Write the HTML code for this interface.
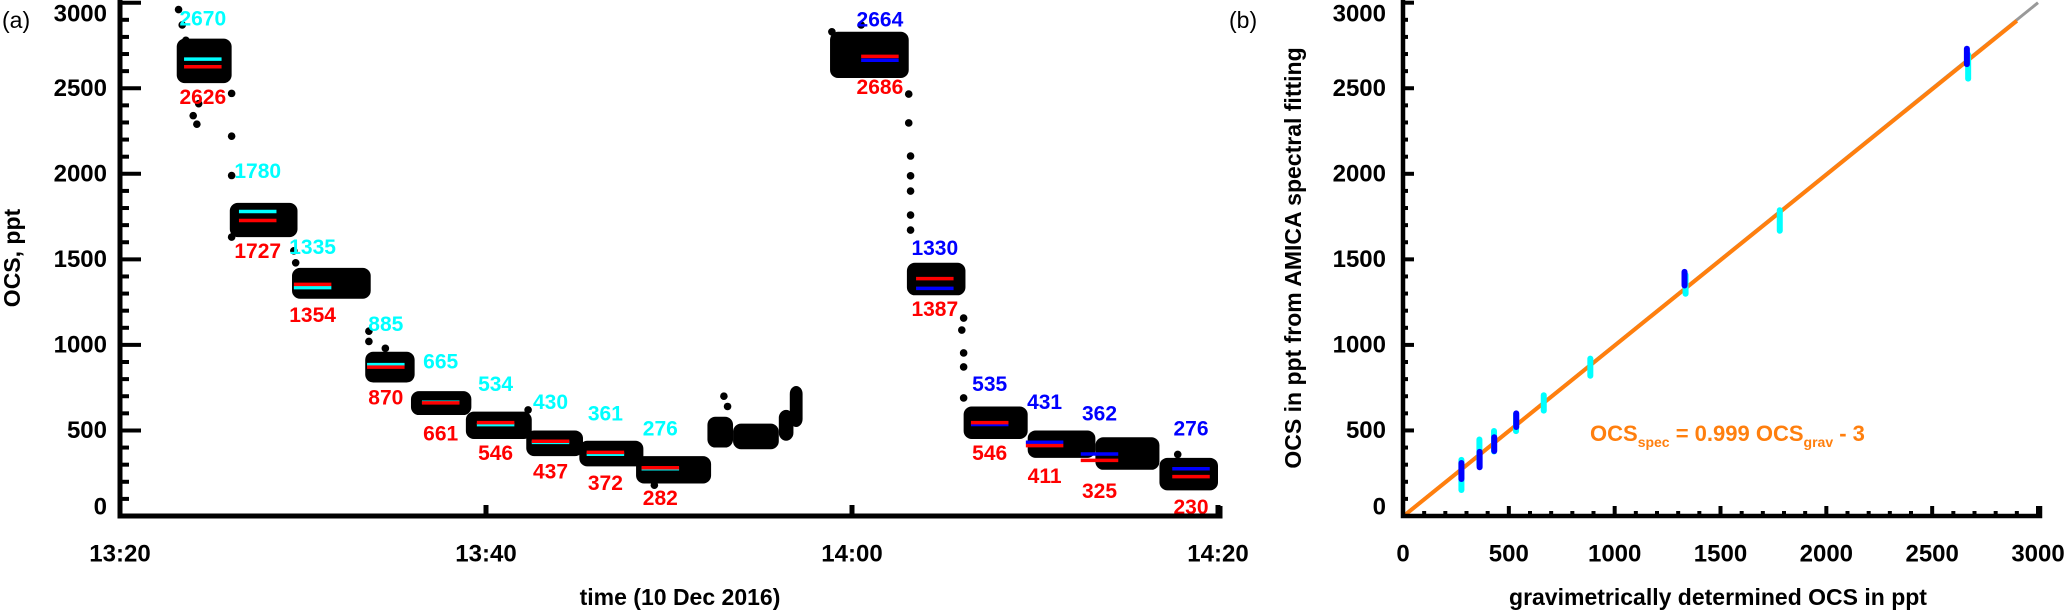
<!DOCTYPE html>
<html><head><meta charset="utf-8">
<style>
html,body{margin:0;padding:0;background:#fff;}
svg{display:block;font-family:"Liberation Sans",Arial,sans-serif;}
.tk{font-size:24px;font-weight:bold;fill:#000;}
.ttl{font-size:23px;font-weight:bold;fill:#000;}
.lab{font-size:21px;font-weight:bold;}
</style></head>
<body>
<svg id="chart" width="2067" height="612" viewBox="0 0 2067 612"></svg>
<script>
// ---------- Panel (a) data ----------
const blockStart = [3.1, 6.0, 9.4, 13.4, 15.9, 18.9, 22.2, 25.1, 28.2, 32.1, 33.5, 36.0, 36.6, 38.8, 43.0, 46.1, 49.6, 53.3, 56.8];
const blockEnd   = [6.1, 9.7, 13.7, 16.1, 19.2, 22.5, 25.3, 28.6, 32.3, 33.5, 36.0, 36.8, 37.3, 43.1, 46.2, 49.6, 53.3, 56.8, 60.0];
const blockLow   = [2530, 1630, 1270, 780, 590, 450, 350, 290, 190, 400, 390, 440, 520, 2560, 1290, 450, 340, 270, 150];
const blockHigh  = [2790, 1830, 1450, 960, 730, 610, 500, 440, 350, 580, 540, 620, 760, 2830, 1480, 640, 500, 460, 340];
const dotTime  = [3.2, 3.4, 3.6, 4.0, 4.2, 4.3, 6.1, 6.1, 6.1, 6.1, 9.5, 9.6, 13.6, 13.6, 14.5, 22.3, 29.2, 33.0, 33.2, 38.9, 40.5, 43.1, 43.1, 43.2, 43.2, 43.2, 43.2, 43.2, 46.1, 46.0, 46.1, 46.1, 46.1, 57.8];
const dotValue = [2960, 2870, 2780, 2340, 2290, 2410, 2470, 2220, 1990, 1630, 1550, 1480, 1080, 1020, 980, 620, 180, 700, 640, 2830, 2870, 2466, 2297, 2104, 1988, 1899, 1759, 1671, 1157, 1087, 953, 871, 690, 360];
const lineStart = [3.5, 6.5, 9.5, 13.5, 16.5, 19.5, 22.5, 25.5, 28.5, 40.5, 43.5, 46.5, 49.5, 52.5, 57.5];
const gravVals  = [2670, 1780, 1335, 885, 665, 534, 430, 361, 276, 2664, 1330, 535, 431, 362, 276];
const specVals  = [2626, 1727, 1354, 870, 661, 546, 437, 372, 282, 2686, 1387, 546, 411, 325, 230];
const gravColor = ["#00ffff","#00ffff","#00ffff","#00ffff","#00ffff","#00ffff","#00ffff","#00ffff","#00ffff","#0000ff","#0000ff","#0000ff","#0000ff","#0000ff","#0000ff"];
const yTicksA = [0, 500, 1000, 1500, 2000, 2500, 3000];
const xTickMin = [0, 20, 40, 60];
const xTickLab = ["13:20", "13:40", "14:00", "14:20"];

// ---------- Panel (b) data ----------
const cyanGrav = [2670, 1780, 1335, 885, 665, 534, 430, 361, 276];
const cyanSpec = [2626, 1727, 1354, 870, 661, 546, 437, 372, 240];
const cyanErr  = [70, 60, 55, 50, 45, 50, 60, 75, 88];
const blueGrav = [2664, 1330, 535, 431, 362, 276];
const blueSpec = [2686, 1387, 560, 420, 330, 263];
const blueErr  = [45, 40, 40, 40, 45, 47];
const fitSlope = [0.999];
const fitOffset = [-3];
const ticksB = [0, 500, 1000, 1500, 2000, 2500, 3000];

const NS = "http://www.w3.org/2000/svg";
const svg = document.getElementById("chart");
function mk(tag, attrs, parent) {
  const e = document.createElementNS(NS, tag);
  for (const k in attrs) e.setAttribute(k, attrs[k]);
  (parent || svg).appendChild(e);
  return e;
}
const xA = m => 120 + m * 18.3;
const yV = v => 516 - v * 0.1711;
const xB = v => 1403 + v * 0.21167;

// ===== Panel (a) =====
const gA = mk("g", {});



const gBlocks = mk("g", {}, gA);


for (let i = 0; i < blockStart.length; i++) {
  const r = mk("rect", {x: xA(blockStart[i]), y: yV(blockHigh[i]), width: xA(blockEnd[i]) - xA(blockStart[i]), height: yV(blockLow[i]) - yV(blockHigh[i]), rx: 8, fill: "#000"}, gBlocks);
  
  
}
const gDots = mk("g", {}, gA);


for (let i = 0; i < dotTime.length; i++) {
  const c = mk("circle", {cx: xA(dotTime[i]), cy: yV(dotValue[i]), r: 3.8, fill: "#000"}, gDots);
  
  
}
for (let i = 0; i < lineStart.length; i++) {
  const x1 = xA(lineStart[i]), x2 = xA(lineStart[i] + 2.05), xc = (x1 + x2) / 2;
  const lg = mk("line", {x1: x1, x2: x2, y1: yV(gravVals[i]), y2: yV(gravVals[i]), stroke: gravColor[i], "stroke-width": 3.5}, gA);
  
  
  const ls = mk("line", {x1: x1, x2: x2, y1: yV(specVals[i]), y2: yV(specVals[i]), stroke: "#ff0000", "stroke-width": 3.5}, gA);
  
  
  const tg = mk("text", {x: xc, y: yV(gravVals[i]) - 40, "text-anchor": "middle", "dominant-baseline": "central", class: "lab", fill: gravColor[i]}, gA);
  tg.textContent = gravVals[i];
  
  
  const ts = mk("text", {x: xc, y: yV(specVals[i]) + 31, "text-anchor": "middle", "dominant-baseline": "central", class: "lab", fill: "#ff0000"}, gA);
  ts.textContent = specVals[i];
  
  
}
const axA = mk("path", {d: "M120,0 V516 H1220 V506", fill: "none", stroke: "#000", "stroke-width": 5}, gA);


for (let v = 0; v <= 3000; v += 100) {
  const major = v % 500 === 0;
  mk("line", {x1: 120, x2: 120 + (major ? 21 : 9), y1: yV(v), y2: yV(v), stroke: "#000", "stroke-width": 4}, gA);
}
yTicksA.forEach(v => {
  const t = mk("text", {x: 107, y: Math.max(yV(v), 14) - (v === 0 ? 9 : 0), "text-anchor": "end", "dominant-baseline": "central", class: "tk"}, gA);
  t.textContent = v;
  
  
});
xTickMin.forEach((m, i) => {
  if (i > 0) mk("line", {x1: xA(m), x2: xA(m), y1: 516, y2: 505, stroke: "#000", "stroke-width": 5}, gA);
  const t = mk("text", {x: xA(m), y: 554, "text-anchor": "middle", "dominant-baseline": "central", class: "tk"}, gA);
  t.textContent = xTickLab[i];
  
  
});
let t;
t = mk("text", {x: 680, y: 597, "text-anchor": "middle", "dominant-baseline": "central", class: "ttl"}, gA);
t.textContent = "time (10 Dec 2016)";


t = mk("text", {x: 0, y: 0, transform: "translate(12,258) rotate(-90)", "text-anchor": "middle", "dominant-baseline": "central", class: "ttl"}, gA);
t.textContent = "OCS, ppt";


t = mk("text", {x: 2, y: 28, "font-size": "23", fill: "#000"}, gA);
t.textContent = "(a)";



// ===== Panel (b) =====
const gB = mk("g", {});


const oneToOne = mk("line", {x1: xB(0), y1: yV(0), x2: xB(3000), y2: yV(3000), stroke: "#999", "stroke-width": 3}, gB);


const fit = mk("line", {x1: xB(0), y1: yV(fitOffset[0]), x2: xB(2900), y2: yV(fitSlope[0] * 2900 + fitOffset[0]), stroke: "#ff7f0e", "stroke-width": 4}, gB);


for (let i = 0; i < cyanGrav.length; i++) {
  const b = mk("line", {x1: xB(cyanGrav[i]), x2: xB(cyanGrav[i]), y1: yV(cyanSpec[i] + cyanErr[i]), y2: yV(cyanSpec[i] - cyanErr[i]), stroke: "#00ffff", "stroke-width": 6, "stroke-linecap": "round"}, gB);
  
  
}
for (let i = 0; i < blueGrav.length; i++) {
  const b = mk("line", {x1: xB(blueGrav[i]), x2: xB(blueGrav[i]), y1: yV(blueSpec[i] + blueErr[i]), y2: yV(blueSpec[i] - blueErr[i]), stroke: "#0000ff", "stroke-width": 6, "stroke-linecap": "round"}, gB);
  
  
}
const axB = mk("path", {d: "M1403,0 V516 H2040 V506", fill: "none", stroke: "#000", "stroke-width": 4.5}, gB);


for (let v = 0; v <= 3000; v += 100) {
  const major = v % 500 === 0;
  mk("line", {x1: 1403, x2: 1403 + (major ? 11 : 5), y1: yV(v), y2: yV(v), stroke: "#000", "stroke-width": 4}, gB);
  mk("line", {x1: xB(v), x2: xB(v), y1: 516, y2: 516 - (major ? 10 : 5), stroke: "#000", "stroke-width": 4}, gB);
}
ticksB.forEach(v => {
  const a = mk("text", {x: 1386, y: Math.max(yV(v), 14) - (v === 0 ? 9 : 0), "text-anchor": "end", "dominant-baseline": "central", class: "tk"}, gB);
  a.textContent = v;
  
  
  const b = mk("text", {x: xB(v), y: 554, "text-anchor": "middle", "dominant-baseline": "central", class: "tk"}, gB);
  b.textContent = v;
  
  
});
t = mk("text", {x: 1718, y: 597, "text-anchor": "middle", "dominant-baseline": "central", class: "ttl"}, gB);
t.textContent = "gravimetrically determined OCS in ppt";


t = mk("text", {x: 0, y: 0, transform: "translate(1293,258) rotate(-90)", "text-anchor": "middle", "dominant-baseline": "central", class: "ttl"}, gB);
t.textContent = "OCS in ppt from AMICA spectral fitting";


t = mk("text", {x: 1229, y: 28, "font-size": "23", fill: "#000"}, gB);
t.textContent = "(b)";


const eq = mk("text", {x: 1590, y: 441, "font-size": "22", "font-weight": "bold", fill: "#ff7f0e"}, gB);


eq.innerHTML = 'OCS<tspan font-size="14" dy="6">spec</tspan><tspan dy="-6"> = 0.999 OCS</tspan><tspan font-size="14" dy="6">grav</tspan><tspan dy="-6"> -  3</tspan>';
</script>
</body></html>
